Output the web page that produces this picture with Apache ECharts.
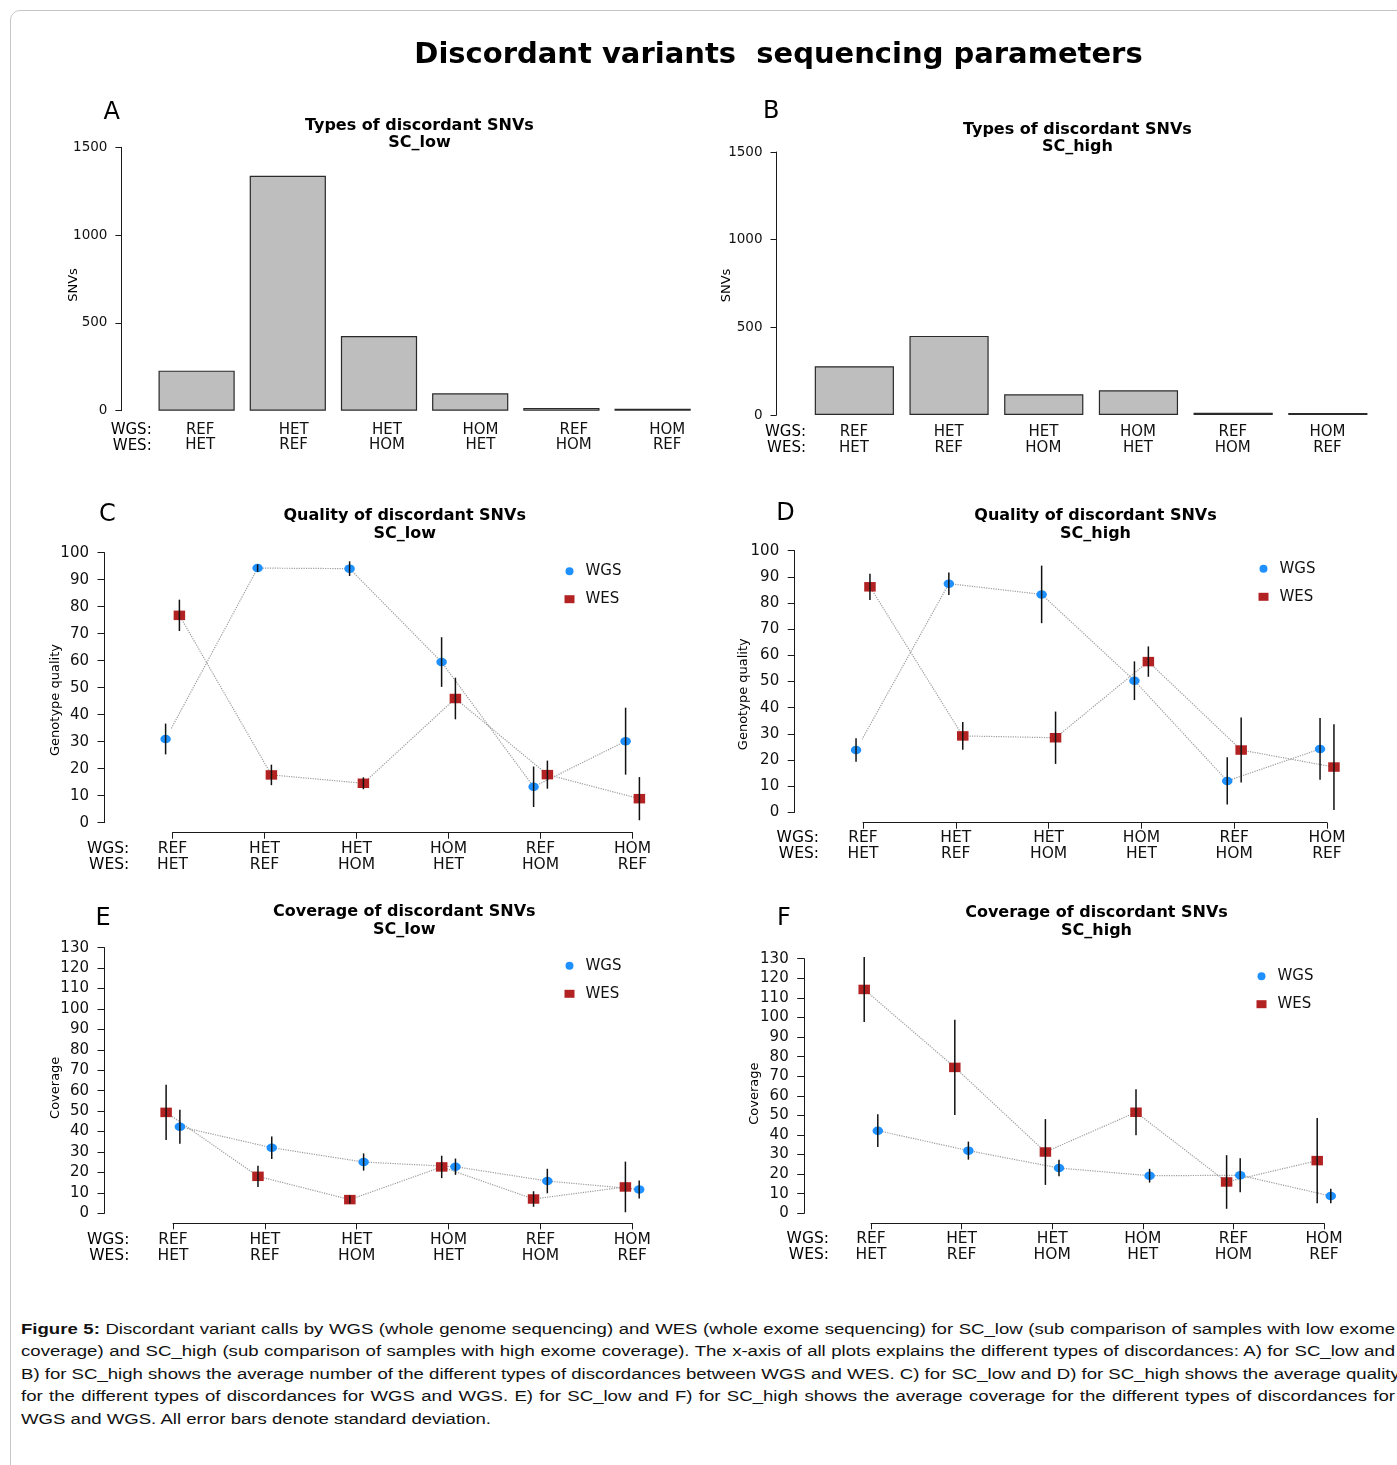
<!DOCTYPE html>
<html>
<head>
<meta charset="utf-8">
<script src="https://cdn.jsdelivr.net/npm/echarts@6/dist/echarts.min.js"></script>
<style>
html,body{margin:0;padding:0;background:#fff;}
#frame{position:absolute;left:10px;top:10px;width:1440px;height:1520px;border:1px solid #c6c6c6;border-radius:10px;box-sizing:border-box;}
#chart{position:absolute;left:0;top:0;width:1397px;height:1300px;}
#caption{position:absolute;left:21px;top:1317.75px;width:1146px;transform:scaleX(1.199);transform-origin:0 0;font-family:"Liberation Sans",Arial,sans-serif;font-size:15.5px;line-height:22.5px;color:#111;}
#caption div{text-align:justify;text-align-last:justify;white-space:nowrap;}
#caption div.last{text-align:left;text-align-last:left;}
</style>
</head>
<body>
<div id="frame"></div>
<div id="chart"></div>
<div id="caption">
<div><b>Figure 5:</b> Discordant variant calls by WGS (whole genome sequencing) and WES (whole exome sequencing) for SC_low (sub comparison of samples with low exome</div>
<div>coverage) and SC_high (sub comparison of samples with high exome coverage). The x-axis of all plots explains the different types of discordances: A) for SC_low and</div>
<div>B) for SC_high shows the average number of the different types of discordances between WGS and WES. C) for SC_low and D) for SC_high shows the average quality</div>
<div>for the different types of discordances for WGS and WGS. E) for SC_low and F) for SC_high shows the average coverage for the different types of discordances for</div>
<div class="last">WGS and WGS. All error bars denote standard deviation.</div>
</div>
<script>
// ---------------- DATA ----------------
const wgsCalls = ['REF', 'HET', 'HET', 'HOM', 'REF', 'HOM'];
const wesCalls = ['HET', 'REF', 'HOM', 'HET', 'HOM', 'REF'];

const snvLow  = [228, 1338, 425, 99, 16, 11];
const snvHigh = [278, 451, 118, 141, 13, 12];

const qualLowWGS    = [31.0, 94.3, 94.1, 59.5, 13.3, 30.2];
const qualLowWGSsd  = [5.7, 1.4, 2.7, 9.2, 7.5, 12.4];
const qualLowWES    = [76.8, 17.7, 14.6, 46.0, 17.8, 8.9];
const qualLowWESsd  = [5.8, 3.8, 2.2, 7.7, 5.2, 8.0];

const qualHighWGS   = [23.8, 87.4, 83.3, 50.3, 12.0, 24.2];
const qualHighWGSsd = [4.5, 4.3, 11.0, 7.4, 9.0, 11.8];
const qualHighWES   = [86.2, 29.2, 28.5, 57.6, 23.8, 17.3];
const qualHighWESsd = [5.0, 5.3, 10.0, 5.8, 12.4, 16.4];

const covLowWGS     = [42.4, 32.1, 25.1, 22.8, 15.8, 11.7];
const covLowWGSsd   = [8.3, 5.5, 4.2, 4.0, 6.0, 4.4];
const covLowWES     = [49.4, 18.1, 6.7, 22.7, 7.0, 12.9];
const covLowWESsd   = [13.5, 5.2, 2.0, 5.5, 3.8, 12.4];

const covHighWGS    = [42.2, 32.0, 23.1, 19.2, 19.4, 8.8];
const covHighWGSsd  = [8.4, 4.6, 4.2, 3.5, 8.7, 3.7];
const covHighWES    = [114.3, 74.5, 31.3, 51.6, 16.0, 26.9];
const covHighWESsd  = [16.6, 24.3, 16.8, 11.8, 13.7, 21.8];

// ---------------- STYLE / LAYOUT ----------------
const FONT = '"DejaVu Sans", sans-serif';
const BLUE = '#1e90ff';
const RED = '#b22222';
const AXIS = '#1a1a1a';
const ELLIPSE = 'path://M0,5 A5,5 0 1,0 10,5 A5,5 0 1,0 0,5 Z';

const barPanels = [
  { letter: 'A', letterPos: [111.7, 112.7], title: 'Types of discordant SNVs\nSC_low', titlePos: [419.4, 134.5],
    values: snvLow, grid: { left: 151, top: 147.3, width: 547.2, height: 263.4 }, yOff: 29.6, barW: 76.2,
    lab: { left: 153.5, width: 560.4, margin: 11.5 }, rowLab: [151.7, 438.4], yName: [73.7, 285] },
  { letter: 'B', letterPos: [771.2, 111.7], title: 'Types of discordant SNVs\nSC_high', titlePos: [1077.4, 138.3],
    values: snvHigh, grid: { left: 807, top: 152, width: 568.2, height: 263 }, yOff: 30.5, barW: 79.2,
    lab: { left: 806.6, width: 568.2, margin: 9.3 }, rowLab: [806, 440.3], yName: [726.7, 285.5] }
];

const linePanels = [
  { letter: 'C', letterPos: [107.5, 515], title: 'Quality of discordant SNVs\nSC_low', titlePos: [404.7, 525],
    wgs: qualLowWGS, wgsSd: qualLowWGSsd, wes: qualLowWES, wesSd: qualLowWESsd, ymax: 100,
    grid: { left: 172.5, top: 552.7, width: 460, height: 270 }, xOff: 10, yOff: 68, shift: [-0.075, 0.075],
    margin: 8.6, rowLab: [129.3, 857.2], yName: ['Genotype quality', 56, 700], legend: [564.5, 558.7, 10] },
  { letter: 'D', letterPos: [785.6, 514], title: 'Quality of discordant SNVs\nSC_high', titlePos: [1095.5, 524.7],
    wgs: qualHighWGS, wgsSd: qualHighWGSsd, wes: qualHighWES, wesSd: qualHighWESsd, ymax: 100,
    grid: { left: 863, top: 550.7, width: 464, height: 261.6 }, xOff: 10.4, yOff: 68.3, shift: [-0.075, 0.075],
    margin: 7.6, rowLab: [819, 846.3], yName: ['Genotype quality', 743.7, 694.2], legend: [1258.5, 556.3, 9.7] },
  { letter: 'E', letterPos: [103.2, 919], title: 'Coverage of discordant SNVs\nSC_low', titlePos: [404.3, 921.2],
    wgs: covLowWGS, wgsSd: covLowWGSsd, wes: covLowWES, wesSd: covLowWESsd, ymax: 130,
    grid: { left: 173, top: 947.7, width: 459.3, height: 265.6 }, xOff: 10, yOff: 68.5, shift: [0.075, -0.075],
    margin: 8.7, rowLab: [129.4, 1248], yName: ['Coverage', 56, 1087.8], legend: [564.5, 953.3, 10] },
  { letter: 'F', letterPos: [784, 919], title: 'Coverage of discordant SNVs\nSC_high', titlePos: [1096.5, 922],
    wgs: covHighWGS, wgsSd: covHighWGSsd, wes: covHighWES, wesSd: covHighWESsd, ymax: 130,
    grid: { left: 871, top: 958.7, width: 453, height: 254.6 }, xOff: 10, yOff: 66.8, shift: [0.075, -0.075],
    margin: 8, rowLab: [829, 1247.2], yName: ['Coverage', 754.7, 1093.7], legend: [1256.5, 963.7, 8.6] }
];

// ---------------- BUILD OPTION ----------------
const grids = [], xAxes = [], yAxes = [], series = [], legends = [], graphics = [];

function txt(x, y, text, font, align, extra) {
  return { type: 'text', x: x, y: y, silent: true,
    style: Object.assign({ text: text, font: font, fill: '#000', align: align || 'center', verticalAlign: 'middle',
      textAlign: align || 'center', textVerticalAlign: 'middle' }, extra || {}) };
}

graphics.push(txt(778.5, 55, 'Discordant variants  sequencing parameters', 'bold 29px ' + FONT));

const pairLabels = wgsCalls.map((w, i) => w + '\n' + wesCalls[i]);

barPanels.forEach(p => {
  let gi = grids.length;
  grids.push(Object.assign({ outerBoundsMode: 'none', containLabel: false }, p.grid));
  xAxes.push({ type: 'category', gridIndex: gi, data: pairLabels, show: false, boundaryGap: true });
  yAxes.push({ type: 'value', gridIndex: gi, min: 0, max: 1500, interval: 500, offset: p.yOff,
    axisLine: { show: true, lineStyle: { color: AXIS, width: 1 } },
    axisTick: { show: true, length: 6, lineStyle: { color: AXIS } },
    axisLabel: { fontSize: 13.5, fontFamily: FONT, color: '#111', margin: 14, formatter: v => String(v) },
    splitLine: { show: false } });
  series.push({ type: 'bar', name: 'SNVs ' + p.letter, xAxisIndex: gi, yAxisIndex: gi, data: p.values,
    barWidth: p.barW, itemStyle: { color: '#bebebe', borderColor: '#2a2a2a', borderWidth: 1.2 }, silent: true });
  gi = grids.length;
  grids.push({ outerBoundsMode: 'none', containLabel: false, left: p.lab.left, width: p.lab.width,
    top: p.grid.top + p.grid.height - 1, height: 1 });
  xAxes.push({ type: 'category', gridIndex: gi, data: pairLabels, boundaryGap: true,
    axisLine: { show: false }, axisTick: { show: false },
    axisLabel: { interval: 0, fontSize: 15, fontFamily: FONT, color: '#111', lineHeight: 15.6, margin: p.lab.margin } });
  yAxes.push({ type: 'value', gridIndex: gi, show: false });

  graphics.push(txt(p.letterPos[0], p.letterPos[1], p.letter, '24px ' + FONT));
  graphics.push(txt(p.titlePos[0], p.titlePos[1], p.title, 'bold 16px ' + FONT, 'center', { lineHeight: 17.6 }));
  graphics.push(txt(p.rowLab[0], p.rowLab[1], 'WGS:\nWES:', '15px ' + FONT, 'right', { lineHeight: 15.6 }));
  const yn = txt(p.yName[0], p.yName[1], 'SNVs', '13px ' + FONT);
  yn.rotation = Math.PI / 2;
  graphics.push(yn);
});

linePanels.forEach(p => {
  const gi = grids.length;
  grids.push(Object.assign({ outerBoundsMode: 'none', containLabel: false }, p.grid));
  xAxes.push({ type: 'value', gridIndex: gi, min: 1, max: 6, interval: 1, offset: p.xOff,
    axisLine: { show: true, onZero: false, lineStyle: { color: AXIS, width: 1 } },
    axisTick: { show: true, length: 6, lineStyle: { color: AXIS } },
    axisLabel: { fontSize: 15.5, fontFamily: FONT, color: '#111', lineHeight: 16, margin: p.margin,
      showMinLabel: true, showMaxLabel: true, hideOverlap: false,
      formatter: v => { const i = Math.round(v) - 1; return wgsCalls[i] + '\n' + wesCalls[i]; } },
    splitLine: { show: false } });
  yAxes.push({ type: 'value', gridIndex: gi, min: 0, max: p.ymax, interval: 10, offset: p.yOff,
    axisLine: { show: true, onZero: false, lineStyle: { color: AXIS, width: 1 } },
    axisTick: { show: true, length: 7, lineStyle: { color: AXIS } },
    axisLabel: { fontSize: 15, fontFamily: FONT, color: '#111', margin: 15.5, showMinLabel: true, showMaxLabel: true },
    splitLine: { show: false } });

  const groups = [
    { name: 'WGS', vals: p.wgs, sd: p.wgsSd, shift: p.shift[0], symbol: ELLIPSE, size: [10.5, 8.5], color: BLUE },
    { name: 'WES', vals: p.wes, sd: p.wesSd, shift: p.shift[1], symbol: 'rect', size: [11.5, 9.5], color: RED }
  ];
  groups.forEach(g => {
    series.push({ type: 'line', name: g.name, xAxisIndex: gi, yAxisIndex: gi,
      data: g.vals.map((v, i) => [i + 1 + g.shift, v]),
      symbol: g.symbol, symbolSize: g.size, showSymbol: true, clip: false, z: 2,
      itemStyle: { color: g.color, borderWidth: 0 },
      lineStyle: { color: '#9c9c9c', width: 1.2, type: 'dotted' }, silent: true });
  });
  groups.forEach(g => {
    series.push({ type: 'custom', xAxisIndex: gi, yAxisIndex: gi, clip: false, z: 5, silent: true,
      data: g.vals.map((v, i) => [i + 1 + g.shift, v - g.sd[i], v + g.sd[i]]),
      encode: { x: 0, y: [1, 2] },
      renderItem: (params, api) => {
        const a = api.coord([api.value(0), api.value(1)]);
        const b = api.coord([api.value(0), api.value(2)]);
        return { type: 'line', shape: { x1: a[0], y1: a[1], x2: b[0], y2: b[1] },
          style: { stroke: '#111', lineWidth: 1.5 } };
      } });
  });

  legends.push({ show: true, orient: 'vertical', left: p.legend[0], top: p.legend[1], itemGap: 3,
    itemWidth: 10, itemHeight: 8, selectedMode: false, padding: 0,
    data: [{ name: 'WGS', icon: ELLIPSE }, { name: 'WES', icon: 'rect' }],
    itemStyle: { borderWidth: 0 }, lineStyle: { width: 0 },
    textStyle: { fontSize: 15, fontFamily: FONT, color: '#111', lineHeight: 18, padding: [7, 0, 0, 6] } });

  graphics.push(txt(p.letterPos[0], p.letterPos[1], p.letter, '24px ' + FONT));
  graphics.push(txt(p.titlePos[0], p.titlePos[1], p.title, 'bold 16px ' + FONT, 'center', { lineHeight: 18 }));
  graphics.push(txt(p.rowLab[0], p.rowLab[1], 'WGS:\nWES:', '15.5px ' + FONT, 'right', { lineHeight: 16 }));
  const yn = txt(p.yName[1], p.yName[2], p.yName[0], '13px ' + FONT);
  yn.rotation = Math.PI / 2;
  graphics.push(yn);
});

const chart = echarts.init(document.getElementById('chart'), null, { renderer: 'canvas' });
chart.setOption({
  animation: false,
  backgroundColor: 'transparent',
  textStyle: { fontFamily: FONT },
  grid: grids,
  xAxis: xAxes,
  yAxis: yAxes,
  legend: legends,
  series: series,
  graphic: { elements: graphics }
});
</script>
</body>
</html>
